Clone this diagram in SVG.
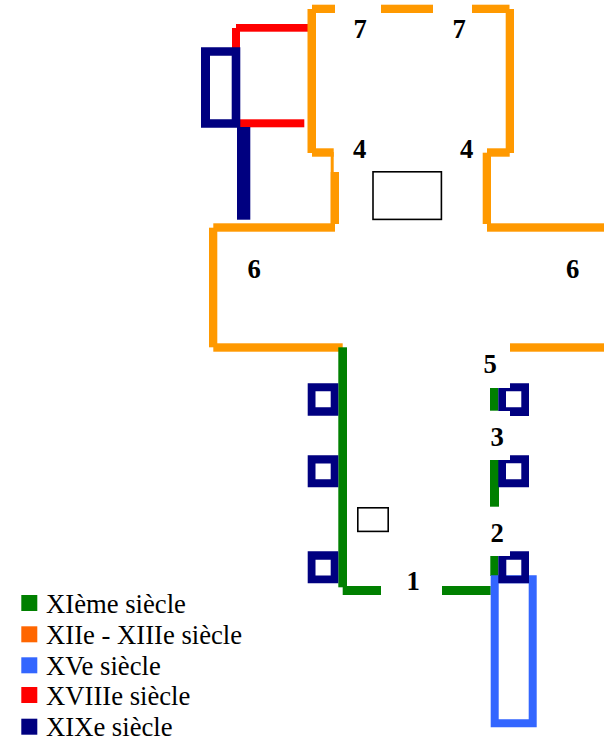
<svg xmlns="http://www.w3.org/2000/svg" width="604" height="741" viewBox="0 0 604 741">
<style>
.or{fill:#ff9900}.gr{fill:#008000}.re{fill:#ff0000}.na{fill:#000080}.bl{fill:#3366ff}
.hole{fill-rule:evenodd}
.box{fill:none;stroke:#000;stroke-width:1.6}
.n{font-family:"Liberation Serif",serif;font-weight:bold;font-size:26.67px;fill:#000}
.l{font-family:"Liberation Serif",serif;font-size:26.67px;fill:#000}
</style>
<rect width="604" height="741" fill="#fff"/>
<g id="xviii">
<rect class="re" x="236" y="24" width="76" height="7.7"/>
<rect class="re" x="232" y="28" width="8" height="20"/>
<rect class="re" x="240" y="119.3" width="64.3" height="8"/>
</g>
<g id="xii-xiii">
<rect class="or" x="312" y="4.7" width="23" height="8.3"/>
<rect class="or" x="381" y="4.7" width="52" height="8.3"/>
<rect class="or" x="472" y="4.7" width="37.5" height="8.3"/>
<rect class="or" x="307.5" y="9" width="8.5" height="144"/>
<rect class="or" x="505.7" y="9" width="8.3" height="144"/>
<rect class="or" x="312" y="148.3" width="21.7" height="8.4"/>
<rect class="or" x="487" y="148.3" width="22.7" height="8.4"/>
<rect class="or" x="330.7" y="152" width="3" height="72"/>
<rect class="or" x="330.7" y="172" width="8.3" height="52"/>
<rect class="or" x="482.7" y="152.7" width="8.3" height="71.3"/>
<rect class="or" x="213.3" y="223.3" width="121.7" height="8.4"/>
<rect class="or" x="487" y="223.3" width="117" height="8.4"/>
<rect class="or" x="209" y="227.7" width="8.3" height="119.6"/>
<rect class="or" x="213.3" y="343.3" width="129.4" height="8.4"/>
<rect class="or" x="510" y="343.3" width="94" height="8.4"/>
</g>
<g id="xi">
<rect class="gr" x="338.3" y="347.3" width="8.7" height="240"/>
<rect class="gr" x="342.7" y="586" width="38.3" height="9"/>
<rect class="gr" x="442" y="586" width="48.7" height="9"/>
<rect class="gr" x="490" y="388" width="8.3" height="22.7"/>
<rect class="gr" x="490" y="460" width="9" height="46.7"/>
<rect class="gr" x="490.3" y="556" width="8" height="20"/>
</g>
<g id="xv">
<path class="bl hole" d="M490.7 575.3H536.7V727.3H490.7ZM498.7 583.3V719.3H528.7V583.3Z"/>
</g>
<g id="xix">
<path class="na hole" d="M201 47.3H240.3V127.7H201ZM210 55.7V119.3H231.7V55.7Z"/>
<rect class="na" x="237" y="127" width="13.3" height="92.7"/>
<path class="na hole" d="M307.7 383.3H338.3V415.7H307.7ZM315.5 391.3V407.3H330.7V391.3Z"/>
<path class="na hole" d="M307.7 455.3H338.3V487.3H307.7ZM315.5 463.5V479.3H330.7V463.5Z"/>
<path class="na hole" d="M307.7 551.3H338.3V583.3H307.7ZM315.5 559.7V575.5H330.7V559.7Z"/>
<path class="na hole" d="M510 383.3H529V416H510V411H498.3V388H510ZM506 391.3V407.3H521.3V391.3Z"/>
<path class="na hole" d="M510 455.3H529V487.3H498.3V460H510ZM506 463.3V479.3H521.3V463.3Z"/>
<path class="na hole" d="M510 551.3H529V583.3H498.3V556H510ZM506.3 559.7V575.7H521.3V559.7Z"/>
</g>
<g id="furniture">
<rect class="box" x="373" y="171.8" width="68.4" height="47.6"/>
<rect class="box" x="357.8" y="507.8" width="30.4" height="23.6"/>
</g>
<g id="numbers">
<text class="n" x="353.5" y="38">7</text>
<text class="n" x="452.5" y="38">7</text>
<text class="n" x="353" y="158">4</text>
<text class="n" x="460" y="158">4</text>
<text class="n" x="247.5" y="278">6</text>
<text class="n" x="566" y="278">6</text>
<text class="n" x="483.5" y="373">5</text>
<text class="n" x="490.5" y="446">3</text>
<text class="n" x="490.5" y="541.7">2</text>
<text class="n" x="406.5" y="590">1</text>
</g>
<g id="legend">
<rect class="gr" x="21.3" y="595" width="16" height="16"/>
<rect x="21.3" y="626.3" width="16" height="16" fill="#ff6600"/>
<rect class="bl" x="21.3" y="657.3" width="16" height="16"/>
<rect class="re" x="21.3" y="687" width="16" height="16"/>
<rect class="na" x="21.3" y="718.7" width="16" height="16"/>
<text class="l" x="46" y="613">XIème siècle</text>
<text class="l" x="46" y="644">XIIe - XIIIe siècle</text>
<text class="l" x="46" y="675">XVe siècle</text>
<text class="l" x="46" y="705">XVIIIe siècle</text>
<text class="l" x="46" y="736">XIXe siècle</text>
</g>
</svg>
